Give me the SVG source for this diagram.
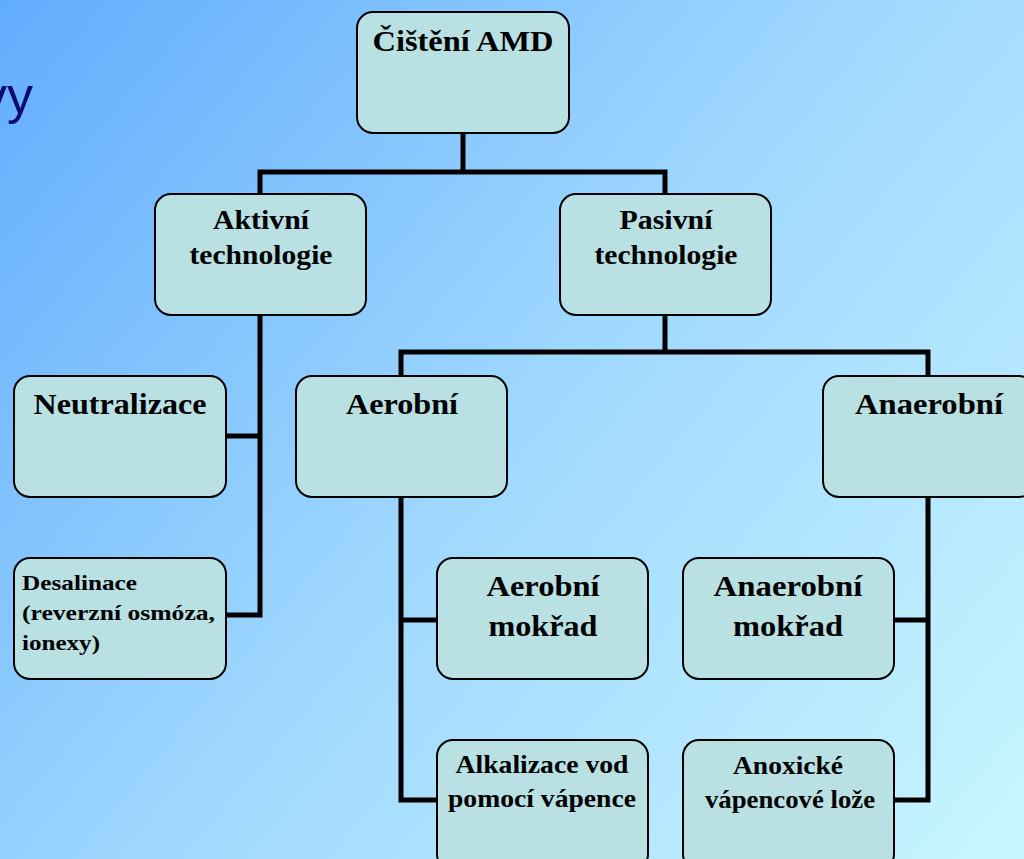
<svg xmlns="http://www.w3.org/2000/svg" width="1024" height="859" viewBox="0 0 1024 859">
<defs>
<linearGradient id="bg" x1="0" y1="0" x2="1024" y2="859" gradientUnits="userSpaceOnUse">
<stop offset="0" stop-color="#62acfd"/>
<stop offset="0.5" stop-color="#9fd8ff"/>
<stop offset="1" stop-color="#c9f6ff"/>
</linearGradient>
<style>
.box{fill:#b9e0e2;stroke:#000;stroke-width:2}
.t{font-family:"Liberation Serif","Times New Roman",serif;font-weight:bold;fill:#000;text-anchor:middle}
.l{font-family:"Liberation Serif","Times New Roman",serif;font-weight:bold;fill:#000;text-anchor:start}
.conn{fill:none;stroke:#000;stroke-width:5;stroke-linejoin:miter}
</style>
</defs>
<rect width="1024" height="859" fill="url(#bg)"/>
<text x="33" y="113" font-family="Liberation Sans, Arial, sans-serif" font-size="52" fill="#0c0c6c" text-anchor="end">vy</text>
<g id="connectors">
<path class="conn" d="M463 133V172M260 194V172H665V194"/>
<path class="conn" d="M665 315V352M401 376V352H928V376"/>
<path class="conn" d="M260 315V615H226M226 436H260"/>
<path class="conn" d="M401 497V800H437M401 620H437"/>
<path class="conn" d="M928 497V800H894M894 620H928"/>
</g>
<g id="n-root"><rect class="box" x="357" y="12" width="212" height="121" rx="16"/><text class="t" x="463" y="51" font-size="29" textLength="181" lengthAdjust="spacingAndGlyphs">Čištění AMD</text></g>
<g id="n-aktivni"><rect class="box" x="155" y="194" width="211" height="121" rx="16"/><text class="t" x="261" y="229" font-size="28" textLength="96" lengthAdjust="spacingAndGlyphs">Aktivní</text><text class="t" x="261" y="264" font-size="28" textLength="143" lengthAdjust="spacingAndGlyphs">technologie</text></g>
<g id="n-pasivni"><rect class="box" x="560" y="194" width="211" height="121" rx="16"/><text class="t" x="666" y="229" font-size="28" textLength="93" lengthAdjust="spacingAndGlyphs">Pasivní</text><text class="t" x="666" y="264" font-size="28" textLength="143" lengthAdjust="spacingAndGlyphs">technologie</text></g>
<g id="n-neutralizace"><rect class="box" x="14" y="376" width="212" height="121" rx="16"/><text class="t" x="120" y="414" font-size="30" textLength="173" lengthAdjust="spacingAndGlyphs">Neutralizace</text></g>
<g id="n-desalinace"><rect class="box" x="14" y="558" width="212" height="121" rx="16"/><text class="l" x="22" y="590" font-size="22" textLength="115" lengthAdjust="spacingAndGlyphs">Desalinace</text><text class="l" x="22" y="620" font-size="22" textLength="193" lengthAdjust="spacingAndGlyphs">(reverzní osmóza,</text><text class="l" x="22" y="650" font-size="22" textLength="78" lengthAdjust="spacingAndGlyphs">ionexy)</text></g>
<g id="n-aerobni"><rect class="box" x="296" y="376" width="211" height="121" rx="16"/><text class="t" x="402" y="414" font-size="29" textLength="112" lengthAdjust="spacingAndGlyphs">Aerobní</text></g>
<g id="n-anaerobni"><rect class="box" x="823" y="376" width="212" height="121" rx="16"/><text class="t" x="929" y="414" font-size="29" textLength="148" lengthAdjust="spacingAndGlyphs">Anaerobní</text></g>
<g id="n-aerobni-mokrad"><rect class="box" x="437" y="558" width="211" height="121" rx="16"/><text class="t" x="543" y="596" font-size="29" textLength="113" lengthAdjust="spacingAndGlyphs">Aerobní</text><text class="t" x="543" y="636" font-size="29" textLength="109" lengthAdjust="spacingAndGlyphs">mokřad</text></g>
<g id="n-anaerobni-mokrad"><rect class="box" x="683" y="558" width="211" height="121" rx="16"/><text class="t" x="788" y="596" font-size="29" textLength="149" lengthAdjust="spacingAndGlyphs">Anaerobní</text><text class="t" x="788" y="636" font-size="29" textLength="110" lengthAdjust="spacingAndGlyphs">mokřad</text></g>
<g id="n-alkalizace"><rect class="box" x="437" y="740" width="211" height="130" rx="16"/><text class="t" x="542" y="773" font-size="26" textLength="173" lengthAdjust="spacingAndGlyphs">Alkalizace vod</text><text class="t" x="542" y="807" font-size="26" textLength="188" lengthAdjust="spacingAndGlyphs">pomocí vápence</text></g>
<g id="n-anoxicke"><rect class="box" x="683" y="740" width="211" height="130" rx="16"/><text class="t" x="788" y="774" font-size="26" textLength="110" lengthAdjust="spacingAndGlyphs">Anoxické</text><text class="t" x="790" y="808" font-size="26" textLength="170" lengthAdjust="spacingAndGlyphs">vápencové lože</text></g>
</svg>
